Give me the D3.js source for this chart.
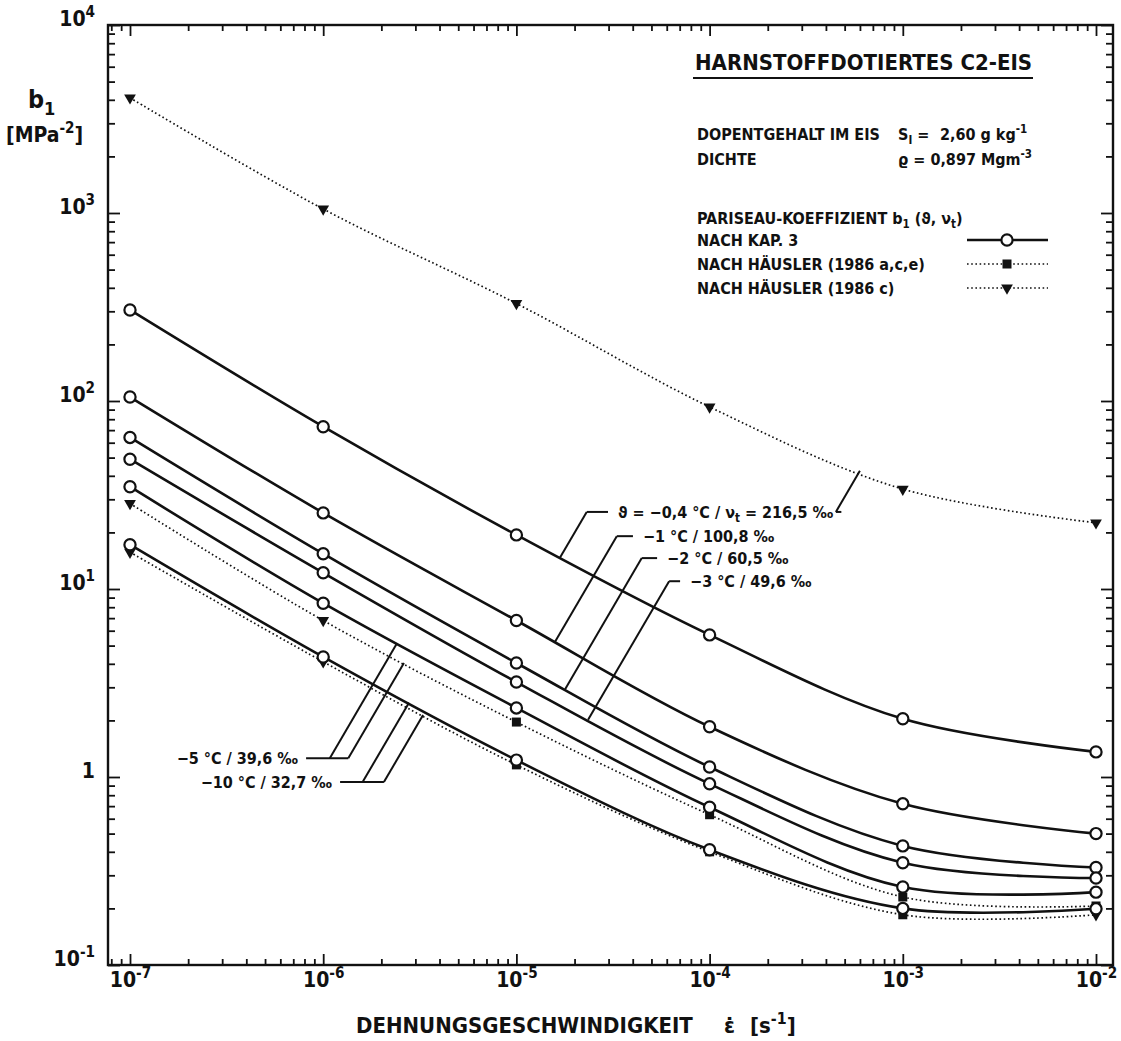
<!DOCTYPE html>
<html>
<head>
<meta charset="utf-8">
<script src="https://cdn.jsdelivr.net/npm/d3@7"></script>
<style>
  body { margin: 0; background: #fff; }
  text { font-family: "DejaVu Sans Condensed", "Liberation Sans Narrow", sans-serif; font-weight: bold; fill: #111; }
</style>
</head>
<body>
<script>
// strain rates (decade exponents), s^-1
var strainExp = [-7, -6, -5, -4, -3, -2];
var strain = strainExp.map(function (e) { return Math.pow(10, e); });

// b1 after Kap. 3 (solid, open circles), MPa^-2
var kap_m04 = [305, 73, 19.4, 5.7, 2.04, 1.36];
var kap_m1  = [105, 25.4, 6.8, 1.85, 0.72, 0.50];
var kap_m2  = [64, 15.4, 4.04, 1.13, 0.43, 0.33];
var kap_m3  = [49, 12.2, 3.2, 0.92, 0.35, 0.29];
var kap_m5  = [35, 8.4, 2.33, 0.69, 0.26, 0.244];
var kap_m10 = [17.2, 4.35, 1.23, 0.41, 0.20, 0.199];

// b1 after Häusler (dotted), with marker kind per point (v = 1986c, s = 1986a,c,e)
var hae_m04 = [4100, 1050, 330, 93, 34, 22.5];
var hae_m5  = [28.5, 6.8, 1.96, 0.63, 0.23, 0.206];
var hae_m10 = [15.7, 4.1, 1.16, 0.40, 0.185, 0.185];
var hae_m04_mark = ["v", "v", "v", "v", "v", "v"];
var hae_m5_mark  = ["v", "v", "s", "s", "s", "s"];
var hae_m10_mark = ["v", "v", "s", "s", "s", "v"];

var kapSeries = [kap_m04, kap_m1, kap_m2, kap_m3, kap_m5, kap_m10];
var haeSeries = [hae_m04, hae_m5, hae_m10];
var haeMarks = [hae_m04_mark, hae_m5_mark, hae_m10_mark];

// curve labels: text, row level (b1), text position (log strain), side, leader targets [set, index, log strain]
var annLabels = ["ϑ = −0,4 °C / ν_{t} = 216,5 ‰", "−1 °C / 100,8 ‰", "−2 °C / 60,5 ‰",
                 "−3 °C / 49,6 ‰", "−5 °C / 39,6 ‰", "−10 °C / 32,7 ‰"];
var annRow = [25.7, 19.1, 14.6, 11.0, 1.26, 0.94];
var annTextExp = [-4.474, -4.345, -4.220, -4.101, -6.130, -5.954];
var annSide = ["start", "start", "start", "start", "end", "end"];
var annTargets = [
  [["kap", 0, -4.774], ["hae", 0, -3.222]],
  [["kap", 1, -4.800]],
  [["kap", 2, -4.748]],
  [["kap", 3, -4.629]],
  [["kap", 4, -5.618], ["hae", 1, -5.582]],
  [["kap", 5, -5.556], ["hae", 2, -5.483]]
];

var yTickExp = [-1, 0, 1, 2, 3, 4];

var width = 1121, height = 1041;
var frame = { left: 108, right: 1113, top: 25, bottom: 965 };

var svg = d3.select("body").append("svg")
    .attr("width", width)
    .attr("height", height);
svg.append("rect").attr("width", width).attr("height", height).attr("fill", "#fff");

var xs = d3.scaleLog().domain([1e-7, 1e-2]).range([130, 1096]);
var x = d3.scaleLog()
    .domain([xs.invert(frame.left), xs.invert(frame.right)])
    .range([frame.left, frame.right]);
var y = d3.scaleLog().domain([0.1, 1e4]).range([frame.bottom, frame.top]);

// text with ^{..} and _{..} pieces
function rich(sel, s, fs) {
  var re = /([\^_])\{([^}]*)\}/g, last = 0, m, off = 0;
  sel.attr("font-size", fs);
  function put(txt, target, size) {
    var t = sel.append("tspan").attr("dy", target - off).text(txt);
    if (size) t.attr("font-size", size);
    off = target;
  }
  while ((m = re.exec(s)) !== null) {
    if (m.index > last) put(s.slice(last, m.index), 0);
    put(m[2], m[1] === "^" ? -0.42 * fs : 0.28 * fs, 0.72 * fs);
    last = re.lastIndex;
  }
  if (last < s.length) put(s.slice(last), 0);
}

function isMajor(d) {
  var l = Math.log10(d);
  return Math.abs(l - Math.round(l)) < 1e-6;
}
function expLabel(d) {
  var e = Math.round(Math.log10(d));
  return e === 0 ? "1" : "10^{" + (e < 0 ? "-" : "") + Math.abs(e) + "}";
}

var xMinor = x.ticks().filter(function (d) { return !isMajor(d); });
var xMajor = strain;
var yMinor = y.ticks().filter(function (d) { return !isMajor(d); });
var yMajor = yTickExp.map(function (e) { return Math.pow(10, e); });

function styleAxis(g) {
  g.select(".domain").remove();
  g.attr("font-size", null).attr("font-family", null);
  g.selectAll("line").attr("stroke", "#111").attr("stroke-width", 1.8);
}

// bottom
svg.append("g").attr("transform", "translate(0," + frame.bottom + ")")
    .call(d3.axisBottom(x).tickValues(xMinor).tickSize(-6).tickFormat(""))
    .call(styleAxis);
var gxb = svg.append("g").attr("transform", "translate(0," + frame.bottom + ")")
    .call(d3.axisBottom(x).tickValues(xMajor).tickSize(-11).tickPadding(22).tickFormat(expLabel))
    .call(styleAxis);
gxb.selectAll("text").each(function (d) {
  var t = d3.select(this); t.text(null); rich(t, expLabel(d), 21);
});
// top
svg.append("g").attr("transform", "translate(0," + frame.top + ")")
    .call(d3.axisTop(x).tickValues(xMinor).tickSize(-6).tickFormat(""))
    .call(styleAxis);
svg.append("g").attr("transform", "translate(0," + frame.top + ")")
    .call(d3.axisTop(x).tickValues(xMajor).tickSize(-11).tickFormat(""))
    .call(styleAxis);
// left
svg.append("g").attr("transform", "translate(" + frame.left + ",0)")
    .call(d3.axisLeft(y).tickValues(yMinor).tickSize(-7).tickFormat(""))
    .call(styleAxis);
var gyl = svg.append("g").attr("transform", "translate(" + frame.left + ",0)")
    .call(d3.axisLeft(y).tickValues(yMajor).tickSize(-12).tickPadding(13).tickFormat(expLabel))
    .call(styleAxis);
gyl.selectAll("text").each(function (d) {
  var t = d3.select(this); t.text(null); rich(t, expLabel(d), 21);
});
// right
svg.append("g").attr("transform", "translate(" + frame.right + ",0)")
    .call(d3.axisRight(y).tickValues(yMinor).tickSize(-7).tickFormat(""))
    .call(styleAxis);
svg.append("g").attr("transform", "translate(" + frame.right + ",0)")
    .call(d3.axisRight(y).tickValues(yMajor).tickSize(-12).tickFormat(""))
    .call(styleAxis);

svg.append("rect")
    .attr("x", frame.left).attr("y", frame.top)
    .attr("width", frame.right - frame.left).attr("height", frame.bottom - frame.top)
    .attr("fill", "none").attr("stroke", "#111").attr("stroke-width", 2.4);

// axis titles
svg.append("text").attr("x", 28).attr("y", 108).call(rich, "b_{1}", 25);
svg.append("text").attr("x", 6).attr("y", 142).call(rich, "[MPa^{-2}]", 21);
svg.append("text").attr("x", 356).attr("y", 1033).call(rich, "DEHNUNGSGESCHWINDIGKEIT", 22);
svg.append("text").attr("x", 724).attr("y", 1033).call(rich, "ε̇", 22);
svg.append("text").attr("x", 750).attr("y", 1033).call(rich, "[s^{-1}]", 22);

// curves
var line = d3.line()
    .x(function (d) { return x(d[0]); })
    .y(function (d) { return y(d[1]); })
    .curve(d3.curveCatmullRom.alpha(0.5));

function pts(vals) { return vals.map(function (v, i) { return [strain[i], v]; }); }

svg.append("g").selectAll("path").data(haeSeries).enter().append("path")
    .attr("d", function (d) { return line(pts(d)); })
    .attr("fill", "none").attr("stroke", "#111")
    .attr("stroke-width", 1.7).attr("stroke-dasharray", "1.6,2.6");

svg.append("g").selectAll("path").data(kapSeries).enter().append("path")
    .attr("d", function (d) { return line(pts(d)); })
    .attr("fill", "none").attr("stroke", "#111").attr("stroke-width", 2.6);

var tri = d3.symbol().type(d3.symbolTriangle).size(60);
function marker(g, kind, cx, cy) {
  if (kind === "s") {
    g.append("rect").attr("x", cx - 4.5).attr("y", cy - 4.5)
        .attr("width", 9).attr("height", 9).attr("fill", "#111");
  } else if (kind === "v") {
    g.append("path").attr("d", tri())
        .attr("transform", "translate(" + cx + "," + cy + ") rotate(180)").attr("fill", "#111");
  } else {
    g.append("circle").attr("cx", cx).attr("cy", cy).attr("r", 5.6)
        .attr("fill", "#fff").attr("stroke", "#111").attr("stroke-width", 2.2);
  }
}

var gm = svg.append("g");
haeSeries.forEach(function (s, j) {
  s.forEach(function (v, i) { marker(gm, haeMarks[j][i], x(strain[i]), y(v)); });
});
kapSeries.forEach(function (s) {
  s.forEach(function (v, i) { marker(gm, "o", x(strain[i]), y(v)); });
});

// curve labels with leader lines
function curveY(vals, e) {
  var i = Math.min(Math.floor(e - strainExp[0]), vals.length - 2);
  var f = e - strainExp[i];
  var lb = Math.log10(vals[i]) * (1 - f) + Math.log10(vals[i + 1]) * f;
  return y(Math.pow(10, lb));
}
var k = 1.71;
var ga = svg.append("g");
annLabels.forEach(function (lab, a) {
  var rowY = y(annRow[a]);
  var tx = x(Math.pow(10, annTextExp[a]));
  var t = ga.append("text").attr("x", tx).attr("y", rowY + 6)
      .attr("text-anchor", annSide[a]).call(rich, lab, 16);
  var w = t.node().getComputedTextLength();
  var x0 = annSide[a] === "start" ? tx : tx - w, x1 = x0 + w;
  var left = [], right = [];
  annTargets[a].forEach(function (tg) {
    var vals = tg[0] === "kap" ? kapSeries[tg[1]] : haeSeries[tg[1]];
    var px = x(Math.pow(10, tg[2])), py = curveY(vals, tg[2]);
    var ex = px + (py - rowY) / k;
    ga.append("line").attr("x1", px).attr("y1", py).attr("x2", ex).attr("y2", rowY)
        .attr("stroke", "#111").attr("stroke-width", 2);
    (ex < x0 ? left : right).push(ex);
  });
  if (left.length) ga.append("line").attr("x1", d3.min(left)).attr("x2", x0 - 10)
      .attr("y1", rowY).attr("y2", rowY).attr("stroke", "#111").attr("stroke-width", 2);
  if (right.length) ga.append("line").attr("x1", x1 + 8).attr("x2", d3.max(right))
      .attr("y1", rowY).attr("y2", rowY).attr("stroke", "#111").attr("stroke-width", 2);
});

// legend block
var lg = svg.append("g");
lg.append("text").attr("x", 695).attr("y", 70).call(rich, "HARNSTOFFDOTIERTES C2-EIS", 22);
lg.append("line").attr("x1", 693).attr("x2", 1033).attr("y1", 78).attr("y2", 78)
    .attr("stroke", "#111").attr("stroke-width", 2);
lg.append("text").attr("x", 697).attr("y", 140).call(rich, "DOPENTGEHALT IM EIS", 16);
lg.append("text").attr("x", 898).attr("y", 140).call(rich, "S_{I} =", 16);
lg.append("text").attr("x", 940).attr("y", 140).call(rich, "2,60 g kg^{-1}", 16);
lg.append("text").attr("x", 697).attr("y", 165).call(rich, "DICHTE", 16);
lg.append("text").attr("x", 898).attr("y", 165).call(rich, "ϱ  = 0,897 Mgm^{-3}", 16);
lg.append("text").attr("x", 697).attr("y", 224).call(rich, "PARISEAU-KOEFFIZIENT  b_{1} (ϑ, ν_{t})", 16);

var legRows = [["NACH  KAP. 3", "o", false], ["NACH  HÄUSLER (1986 a,c,e)", "s", true], ["NACH  HÄUSLER (1986 c)", "v", true]];
var legY = d3.scalePoint().domain(legRows.map(function (d) { return d[0]; })).range([240, 288]);
legRows.forEach(function (r) {
  var cy = legY(r[0]);
  lg.append("text").attr("x", 697).attr("y", cy + 6).call(rich, r[0], 16);
  lg.append("line").attr("x1", 967).attr("x2", 1048).attr("y1", cy).attr("y2", cy)
      .attr("stroke", "#111").attr("stroke-width", r[2] ? 1.7 : 2.6)
      .attr("stroke-dasharray", r[2] ? "1.6,2.6" : null);
  marker(lg, r[1], 1007, cy);
});
</script>
</body>
</html>
